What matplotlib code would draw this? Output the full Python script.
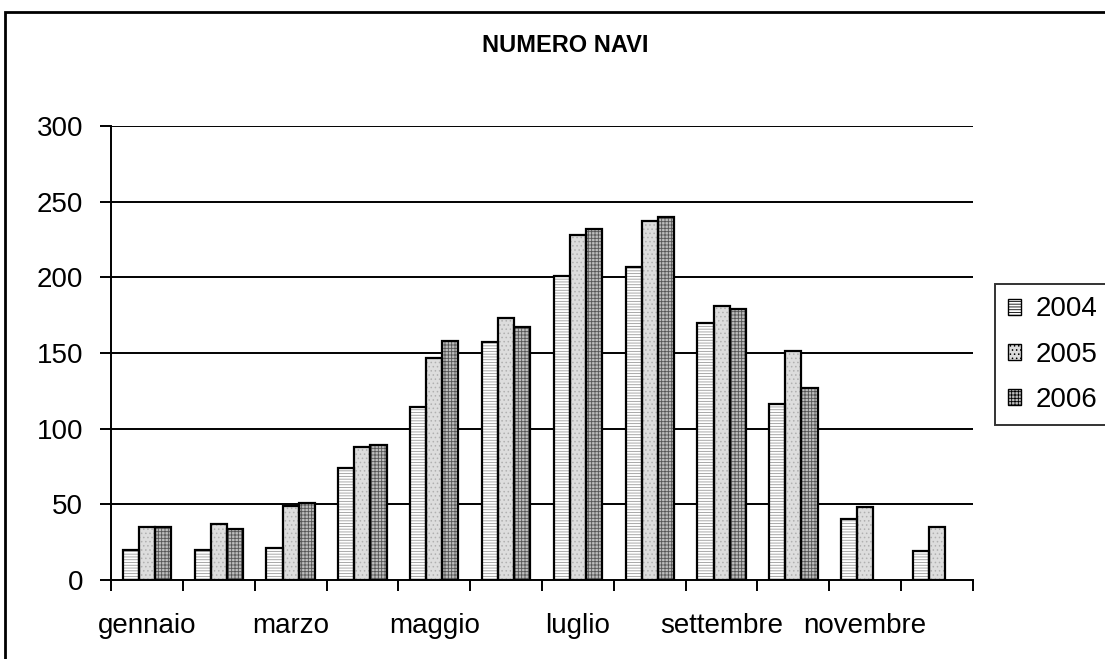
import matplotlib.pyplot as plt
import numpy as np
from matplotlib.patches import Patch, Rectangle

plt.rcParams['font.family'] = ['Liberation Sans', 'DejaVu Sans']
plt.rcParams['hatch.linewidth'] = 0.6

mesi = ["gennaio", "febbraio", "marzo", "aprile", "maggio", "giugno",
        "luglio", "agosto", "settembre", "ottobre", "novembre", "dicembre"]
anni = ["2004", "2005", "2006"]
navi_2004 = [20, 20, 21, 74, 114, 157, 201, 207, 170, 116, 40, 19]
navi_2005 = [35, 37, 49, 88, 147, 173, 228, 237, 181, 151, 48, 35]
navi_2006 = [35, 34, 51, 89, 158, 167, 232, 240, 179, 127, None, None]
serie = [navi_2004, navi_2005, navi_2006]

# fill, hatch, hatch colour per year
stili = [("#ffffff", "------", "#9a9a9a"),
         ("#dddddd", "....", "#b0b0b0"),
         ("#bdbdbd", "+++++", "#555555")]

fig = plt.figure(figsize=(11.05, 6.59), dpi=100)
ax = fig.add_axes([111/1105, 1-580/659, 862/1105, 454/659])

x = np.arange(len(mesi))
w = 0.224
for i, (vals, (fc, h, hc)) in enumerate(zip(serie, stili)):
    v = np.array([np.nan if a is None else a for a in vals], dtype=float)
    pos = x + (i - 1) * w
    plt.rcParams['hatch.color'] = hc
    ax.bar(pos, v, w, color=fc, hatch=h, edgecolor=hc, linewidth=0, zorder=2)
    ax.bar(pos, v, w, fill=False, edgecolor="black", linewidth=1.6, zorder=3)

ax.set_xlim(-0.5, 11.5)
ax.set_ylim(0, 300)
ax.set_yticks(range(0, 301, 50))
for y in range(50, 301, 50):
    ax.axhline(y, color="black", linewidth=1.4, zorder=1)

ax.set_xticks(np.arange(-0.5, 12, 1))
ax.set_xticklabels([])
ax.set_xticks(x[::2], minor=True)
ax.set_xticklabels(mesi[::2], minor=True)
ax.tick_params(axis="x", which="major", length=8, width=1.4, direction="out")
ax.tick_params(axis="x", which="minor", length=0, pad=24, labelsize=20)
ax.tick_params(axis="y", length=8, width=1.4, direction="out", pad=12, labelsize=20)

for s in ["top", "right"]:
    ax.spines[s].set_visible(False)
for s in ["left", "bottom"]:
    ax.spines[s].set_linewidth(1.4)

fig.text(565/1105, 1-46/659, "NUMERO NAVI", ha="center", va="center",
         fontsize=17, fontweight="bold")

handles = []
for (fc, h, hc), anno in zip(stili, anni):
    handles.append(Patch(facecolor=fc, hatch=h, edgecolor="black", linewidth=1.0, label=anno))
plt.rcParams['hatch.color'] = "#777777"
leg = fig.legend(handles=handles, loc="upper left",
                 bbox_to_anchor=(995/1105, 1-284/659), fontsize=20,
                 frameon=True, fancybox=False, handlelength=0.5, handleheight=0.5,
                 handletextpad=0.5, labelspacing=0.69, borderpad=0.45,
                 borderaxespad=0)
leg.get_frame().set_edgecolor("black")
leg.get_frame().set_linewidth(1.4)

fig.patches.append(Rectangle((5/1105, -0.1), 1.2, 1.1 - 12/659,
                             transform=fig.transFigure, fill=False,
                             edgecolor="black", linewidth=2))

fig.savefig("out.png", dpi=100)
